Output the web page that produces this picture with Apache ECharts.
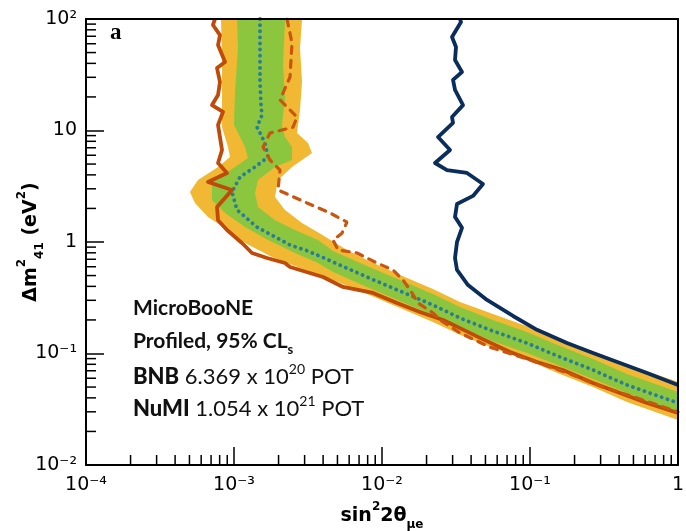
<!DOCTYPE html>
<html>
<head>
<meta charset="utf-8">
<script src="https://cdn.jsdelivr.net/npm/echarts@6/dist/echarts.min.js"></script>
<style>
  html, body { margin: 0; padding: 0; background: #fff; }
  #chart { width: 686px; height: 531px; }
</style>
</head>
<body>
<div id="chart"></div>
<script>
// 轴刻度
const xDecades = [1e-4, 1e-3, 1e-2, 1e-1, 1];
const xTickText = ['10⁻⁴', '10⁻³', '10⁻²', '10⁻¹', '1'];
const yDecades = [1e-2, 1e-1, 1, 10, 100];
const yTickText = ['10⁻²', '10⁻¹', '1', '10', '10²'];

// 2 sigma band (yellow), closed outline
const band2X = [8.17e-4, 8.30e-4, 8.30e-4, 9.11e-4, 9.40e-4, 7.80e-4, 5.71e-4, 5.04e-4, 5.45e-4, 6.67e-4, 9.11e-4, 1.187e-3, 1.806e-3,
    2.793e-3, 4.667e-3, 7.916e-3, 1.323e-2, 2.211e-2, 3.365e-2, 5.623e-2, 9.54e-2, 0.1595, 0.2666, 0.4522, 1,
    1, 0.4522, 0.2666, 0.1595, 9.54e-2, 5.623e-2, 3.365e-2, 2.211e-2, 1.323e-2, 7.916e-3, 5.8e-3, 3.932e-3,
    2.882e-3, 2.211e-3, 1.892e-3, 1.983e-3, 2.466e-3, 3.365e-3, 3.162e-3, 2.666e-3, 2.793e-3, 2.882e-3, 2.793e-3, 2.882e-3];
const band2Y = [100, 42.9, 10.7, 7.11, 5.79, 4.71, 3.60, 2.81, 2.24, 1.68, 1.28, 0.980, 0.734,
    0.584, 0.456, 0.342, 0.256, 0.192, 0.147, 0.112, 0.0874, 0.0655, 0.0501, 0.0367, 0.0253,
    0.0555, 0.0805, 0.105, 0.135, 0.176, 0.226, 0.290, 0.379, 0.506, 0.690, 0.848, 1.16,
    1.48, 1.94, 2.53, 3.60, 4.71, 6.29, 7.73, 9.50, 15.3, 27.2, 54.9, 100];

// 1 sigma band (green)
const band1X = [1.048e-3, 1.064e-3, 1.016e-3, 1.0e-3, 1.187e-3, 1.243e-3, 1.016e-3, 7.10e-4, 7.10e-4, 8.70e-4, 1.187e-3, 1.697e-3, 2.584e-3, 3.695e-3,
    4.667e-3, 7.916e-3, 1.323e-2, 2.211e-2, 3.365e-2, 5.623e-2, 9.54e-2, 0.1595, 0.2666, 0.4522, 1,
    1, 0.4522, 0.2666, 0.1595, 9.54e-2, 5.623e-2, 3.365e-2, 2.211e-2, 1.323e-2, 7.916e-3, 4.667e-3, 3.695e-3,
    2.584e-3, 1.892e-3, 1.453e-3, 1.387e-3, 1.453e-3, 1.892e-3, 2.466e-3, 2.466e-3, 2.211e-3, 2.11e-3, 2.211e-3, 2.144e-3, 2.211e-3];
const band1Y = [100, 54.9, 22.1, 11.2, 7.11, 5.67, 4.71, 3.45, 2.38, 1.82, 1.36, 1.04, 0.797, 0.648,
    0.538, 0.395, 0.296, 0.221, 0.173, 0.129, 0.101, 0.0772, 0.0590, 0.0442, 0.0293,
    0.0452, 0.0655, 0.0893, 0.117, 0.156, 0.200, 0.261, 0.342, 0.456, 0.609, 0.830, 1.04,
    1.28, 1.57, 2.06, 2.75, 3.60, 4.71, 5.44, 7.11, 8.74, 11.2, 19.6, 38.7, 100];

// median sensitivity (dotted)
const medX = [1.499e-3, 1.499e-3, 1.499e-3, 1.522e-3, 1.547e-3, 1.43e-3, 1.621e-3, 1.697e-3, 1.387e-3, 1.098e-3, 9.69e-4, 1.048e-3, 1.43e-3,
    2.39e-3, 3.162e-3, 4.667e-3, 7.916e-3, 1.323e-2, 2.211e-2, 3.365e-2, 5.623e-2, 9.54e-2, 0.1595, 0.2666, 0.4522, 1];
const medY = [100, 54.9, 27.2, 16.9, 13.8, 10.7, 7.73, 5.79, 4.71, 3.83, 2.81, 1.94, 1.36,
    0.940, 0.830, 0.662, 0.485, 0.363, 0.272, 0.208, 0.159, 0.124, 0.0930, 0.0711, 0.0522, 0.0360];

// observed limit (solid orange)
const obsX = [7.44e-4, 7.21e-4, 8.04e-4, 7.80e-4, 8.70e-4, 7.68e-4, 8.04e-4, 7.80e-4, 7.10e-4, 8.43e-4, 7.80e-4, 8.30e-4, 7.80e-4,
    8.97e-4, 6.67e-4, 9.69e-4, 7.68e-4, 7.80e-4, 8.97e-4, 1.132e-3, 1.323e-3, 1.671e-3, 2.211e-3, 2.39e-3, 3.994e-3,
    5.452e-3, 8.7e-3, 1.263e-2, 1.806e-2, 2.584e-2, 3.365e-2, 4.594e-2, 7.33e-2, 0.1115, 0.1671, 0.2666, 0.4056, 0.6173, 1];
const obsY = [100, 88.4, 71.8, 58.4, 41.1, 36.3, 27.2, 20.8, 16.9, 14.7, 11.2, 6.69, 5.11,
    4.16, 3.45, 2.93, 2.06, 1.57, 1.28, 0.980, 0.797, 0.719, 0.648, 0.597, 0.485,
    0.395, 0.349, 0.284, 0.236, 0.200, 0.169, 0.138, 0.103, 0.0839, 0.0711, 0.0544, 0.0442, 0.0360, 0.0293];

// second limit (dashed orange)
const dashX = [2.281e-3, 2.466e-3, 2.39e-3, 2.046e-3, 2.666e-3, 2.504e-3, 1.751e-3, 1.571e-3, 1.751e-3, 2.046e-3, 1.983e-3, 3.114e-3,
    4.454e-3, 5.8e-3, 5.367e-3, 4.667e-3, 5.044e-3, 6.777e-3, 9.25e-3, 1.187e-2, 1.387e-2, 1.595e-2, 1.751e-2, 2.211e-2,
    2.466e-2, 3.365e-2, 5.367e-2, 0.1, 0.1864, 0.2972, 0.5536, 1];
const dashY = [100, 60.9, 30.2, 18.8, 13.2, 10.7, 9.50, 7.11, 5.44, 4.42, 2.93, 2.24,
    1.82, 1.51, 1.20, 1.04, 0.848, 0.797, 0.648, 0.561, 0.456, 0.349, 0.284, 0.231,
    0.200, 0.153, 0.114, 0.0874, 0.0655, 0.0511, 0.0391, 0.0299];

// navy contour
const navyX = [3.365e-2, 3.418e-2, 2.972e-2, 3.162e-2, 3.114e-2, 3.472e-2, 3.019e-2, 3.114e-2, 3.527e-2, 2.972e-2, 3.019e-2, 2.39e-2,
    2.882e-2, 2.281e-2, 2.749e-2, 3.752e-2, 4.813e-2, 4.12e-2, 3.212e-2, 3.114e-2, 3.472e-2, 3.212e-2, 3.114e-2, 3.212e-2,
    3.812e-2, 5.122e-2, 7.68e-2, 0.1115, 0.1778, 0.2666, 0.4056, 0.6173, 1];
const navyY = [100, 94.0, 68.9, 56.1, 42.9, 33.5, 28.4, 23.1, 16.9, 13.2, 11.7, 8.74,
    6.69, 5.11, 4.42, 4.16, 3.31, 2.59, 2.19, 1.68, 1.34, 1.00, 0.719, 0.561,
    0.411, 0.302, 0.217, 0.163, 0.124, 0.101, 0.0822, 0.0668, 0.0522];

(function() {
    let chartDom = document.getElementById('chart');
    let myChart = echarts.init(chartDom);

    const zip = (xs, ys) => xs.map((x, i) => [x, ys[i]]);
    const tickFont = 'DejaVu Sans';
    const noteFont = 'Lato';

    // 次刻度 2..9
    let minorX = [], minorY = [];
    for (let d = -4; d < 0; d++) for (let m = 2; m <= 9; m++) minorX.push(m * Math.pow(10, d));
    for (let d = -2; d < 2; d++) for (let m = 2; m <= 9; m++) minorY.push(m * Math.pow(10, d));

    function labelOf(decades, texts) {
        return function(v) {
            for (let i = 0; i < decades.length; i++) {
                if (Math.abs(Math.log10(v) - Math.log10(decades[i])) < 1e-6) return texts[i];
            }
            return '';
        };
    }

    function bandSeries(xs, ys, color, z) {
        return {
            type: 'custom',
            clip: true,
            z: z,
            silent: true,
            data: [[xs[0], ys[0]]],
            renderItem: function(params, api) {
                let pts = xs.map((x, i) => api.coord([x, ys[i]]));
                return {
                    type: 'polygon',
                    shape: { points: pts },
                    style: { fill: color, stroke: null }
                };
            }
        };
    }

    const axisBase = {
        type: 'log',
        logBase: 10,
        z: 10,
        splitLine: { show: false },
        minorTick: { show: false },
        nameMoveOverlap: false,
        axisLine: { show: true, onZero: false, lineStyle: { color: '#000', width: 2 } }
    };
    const nameStyle = {
        fontFamily: tickFont,
        fontSize: 19,
        fontWeight: 'bold',
        color: '#000',
        lineHeight: 30,
        rich: {
            p: { fontFamily: tickFont, fontSize: 12, fontWeight: 'bold', verticalAlign: 'top', color: '#000' },
            q: { fontFamily: tickFont, fontSize: 12, fontWeight: 'bold', verticalAlign: 'bottom', color: '#000' }
        }
    };

    let option = {
        animation: false,
        backgroundColor: '#fff',
        grid: { left: 86, right: 8, top: 19, bottom: 66, containLabel: false, outerBoundsMode: 'none' },
        xAxis: [Object.assign({}, axisBase, {
                min: 1e-4,
                max: 1,
                position: 'bottom',
                axisTick: { inside: true, length: 18, lineStyle: { color: '#000', width: 1.5 } },
                axisLabel: {
                    formatter: labelOf(xDecades, xTickText),
                    fontFamily: tickFont,
                    fontSize: 19,
                    color: '#000',
                    margin: 11
                },
                name: 'sin{p|2}2θ{q|μe}',
                nameLocation: 'middle',
                nameGap: 36,
                nameTextStyle: nameStyle
            }),
            Object.assign({}, axisBase, {
                min: 1e-4,
                max: 1,
                position: 'top',
                axisTick: { show: false },
                axisLabel: { show: false }
            })
        ],
        yAxis: [Object.assign({}, axisBase, {
                min: 1e-2,
                max: 100,
                position: 'left',
                axisTick: { inside: true, length: 18, lineStyle: { color: '#000', width: 1.5 } },
                axisLabel: {
                    formatter: labelOf(yDecades, yTickText),
                    fontFamily: tickFont,
                    fontSize: 19,
                    color: '#000',
                    margin: 9
                },
                name: 'Δm{p|2}{q|41} (eV{p|2})',
                nameLocation: 'middle',
                nameGap: 40,
                nameTextStyle: nameStyle
            }),
            Object.assign({}, axisBase, {
                min: 1e-2,
                max: 100,
                position: 'right',
                axisTick: { show: false },
                axisLabel: { show: false }
            })
        ],
        graphic: [
            { type: 'text', x: 110, y: 22, z: 20, style: { text: 'a', fontFamily: 'Liberation Serif', fontWeight: 'bold', fontSize: 23, fill: '#000' } },
            { type: 'text', x: 133, y: 308, z: 20, style: { text: 'MicroBooNE', fontFamily: noteFont, fontWeight: 'bold', fontSize: 21, fill: '#111', verticalAlign: 'middle' } },
            {
                type: 'text', x: 133, y: 341, z: 20,
                style: {
                    text: 'Profiled, 95% CL{s|s}', fontFamily: noteFont, fontWeight: 'bold', fontSize: 21, lineHeight: 30, fill: '#111', verticalAlign: 'middle',
                    rich: { s: { fontFamily: noteFont, fontWeight: 'bold', fontSize: 13, verticalAlign: 'bottom', fill: '#111' } }
                }
            },
            {
                type: 'text', x: 133, y: 377, z: 20,
                style: {
                    text: '{b|BNB} 6.369 x 10{p|20} POT', fontFamily: noteFont, fontSize: 22, lineHeight: 30, fill: '#111', verticalAlign: 'middle',
                    rich: {
                        b: { fontFamily: noteFont, fontWeight: 900, fontSize: 22, fill: '#111' },
                        p: { fontFamily: noteFont, fontSize: 14, verticalAlign: 'top', fill: '#111' }
                    }
                }
            },
            {
                type: 'text', x: 133, y: 409, z: 20,
                style: {
                    text: '{b|NuMI} 1.054 x 10{p|21} POT', fontFamily: noteFont, fontSize: 22, lineHeight: 30, fill: '#111', verticalAlign: 'middle',
                    rich: {
                        b: { fontFamily: noteFont, fontWeight: 900, fontSize: 22, fill: '#111' },
                        p: { fontFamily: noteFont, fontSize: 14, verticalAlign: 'top', fill: '#111' }
                    }
                }
            }
        ],
        series: [
            bandSeries(band2X, band2Y, '#f1b933', 1),
            bandSeries(band1X, band1Y, '#8cc63f', 2),
            {
                type: 'line',
                z: 3,
                data: zip(medX, medY),
                symbol: 'none',
                lineStyle: { color: '#2a7d99', width: 3.8, type: [0.1, 6], cap: 'round' }
            },
            {
                type: 'line',
                z: 4,
                data: zip(obsX, obsY),
                symbol: 'none',
                lineStyle: { color: '#bf4a0a', width: 3.8, join: 'round' }
            },
            {
                type: 'line',
                z: 5,
                data: zip(dashX, dashY),
                symbol: 'none',
                lineStyle: { color: '#c8560f', width: 3.2, type: [7, 7], cap: 'round' }
            },
            {
                type: 'line',
                z: 6,
                data: zip(navyX, navyY),
                symbol: 'none',
                lineStyle: { color: '#0b2d5c', width: 3.8, join: 'round' }
            },
            // 次刻度线
            {
                type: 'custom',
                z: 11,
                silent: true,
                data: minorX.map(v => [v, 1e-2]),
                renderItem: function(params, api) {
                    let p = api.coord([api.value(0), api.value(1)]);
                    return { type: 'line', shape: { x1: p[0], y1: p[1], x2: p[0], y2: p[1] - 10 }, style: { stroke: '#000', lineWidth: 1.5 } };
                }
            },
            {
                type: 'custom',
                z: 11,
                silent: true,
                data: minorY.map(v => [1e-4, v]),
                renderItem: function(params, api) {
                    let p = api.coord([api.value(0), api.value(1)]);
                    return { type: 'line', shape: { x1: p[0], y1: p[1], x2: p[0] + 10, y2: p[1] }, style: { stroke: '#000', lineWidth: 1.5 } };
                }
            }
        ]
    };
    myChart.setOption(option);
    window.addEventListener("resize", function() {
        myChart.resize();
    });
})();
</script>
</body>
</html>
